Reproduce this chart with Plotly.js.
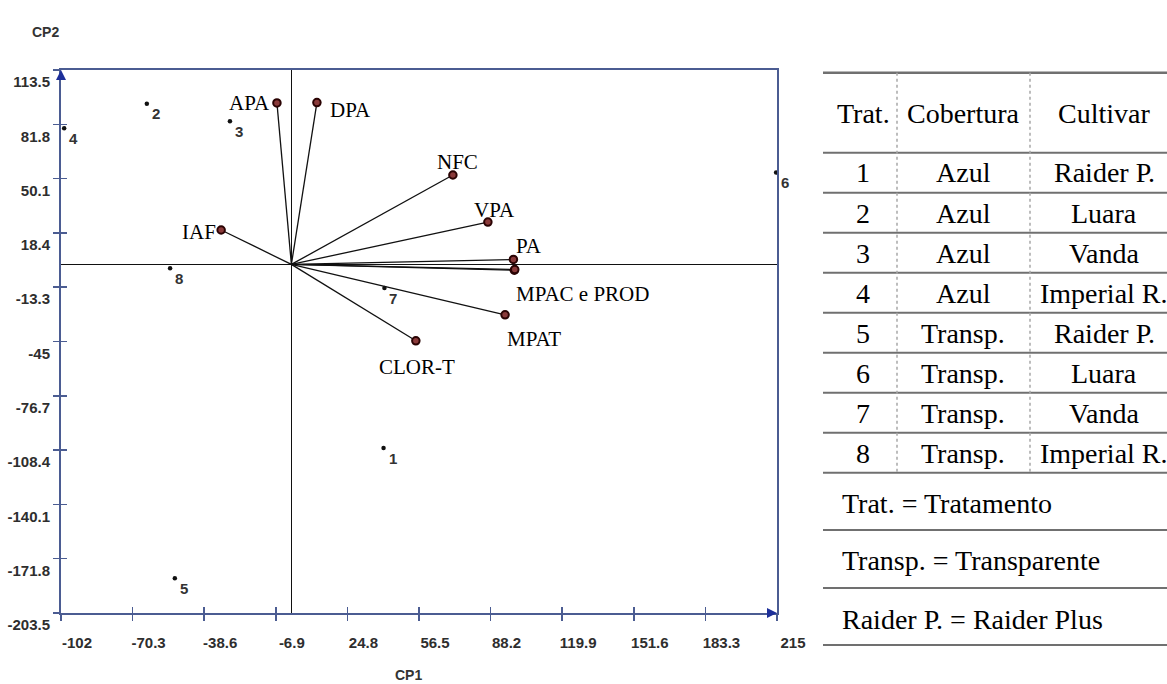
<!DOCTYPE html>
<html>
<head>
<meta charset="utf-8">
<script src="https://cdn.plot.ly/plotly-3.0.1.min.js"></script>
<style>html,body{margin:0;padding:0;background:#fff;}#chart{width:1167px;height:684px;}</style>
</head>
<body>
<div id="chart"></div>
<script>
// ---------- DATA ----------
const xTicks = [-102, -70.3, -38.6, -6.9, 24.8, 56.5, 88.2, 119.9, 151.6, 183.3, 215];
const yTicks = [113.5, 81.8, 50.1, 18.4, -13.3, -45, -76.7, -108.4, -140.1, -171.8, -203.5];
const xTickText = ['-102', '-70.3', '-38.6', '-6.9', '24.8', '56.5', '88.2', '119.9', '151.6', '183.3', '215'];
const yTickText = ['113.5', '81.8', '50.1', '18.4', '-13.3', '-45', '-76.7', '-108.4', '-140.1', '-171.8', '-203.5'];

// treatments (scores)
const tratLabels = ['1', '2', '3', '4', '5', '6', '7', '8'];
const tratCP1 = [40.8, -64.0, -27.2, -100.6, -51.6, 214.6, 41.2, -53.7];
const tratCP2 = [-107.2, 93.8, 83.6, 79.5, -183.2, 53.6, -13.8, -2.3];

// variables (vectors)
const varNames = ['APA', 'DPA', 'NFC', 'VPA', 'PA', 'MPAC', 'PROD', 'MPAT', 'CLOR-T', 'IAF'];
const varCP1 = [-6.4, 11.3, 71.5, 87.0, 98.3, 98.7, 98.9, 94.6, 55.1, -31.1];
const varCP2 = [94.3, 94.5, 52.2, 24.7, 2.9, -3.4, -3.0, -29.4, -44.6, 20.1];
const varLabelText = ['APA', 'DPA', 'NFC', 'VPA', 'PA', 'MPAC e PROD', '', 'MPAT', 'CLOR-T', 'IAF'];

// table
const tableHeader = ['Trat.', 'Cobertura', 'Cultivar'];
const tratCol = ['1', '2', '3', '4', '5', '6', '7', '8'];
const coberturaCol = ['Azul', 'Azul', 'Azul', 'Azul', 'Transp.', 'Transp.', 'Transp.', 'Transp.'];
const cultivarCol = ['Raider P.', 'Luara', 'Vanda', 'Imperial R.', 'Raider P.', 'Luara', 'Vanda', 'Imperial R.'];
const footnotes = ['Trat. = Tratamento', 'Transp. = Transparente', 'Raider P. = Raider Plus'];

// ---------- STYLE / LAYOUT ----------
const W = 1167, H = 684;
const AREA = {l: 61, r: 777, t: 70, b: 613};
const px = x => (x - AREA.l) / (AREA.r - AREA.l);
const py = y => (AREA.b - y) / (AREA.b - AREA.t);
const AXC = '#4b5c92';
const tickFont = {family: 'Liberation Sans, Arial, sans-serif', size: 15, color: '#2e2e2e', weight: 'bold'};
const serif = 'Liberation Serif, Times New Roman, serif';

// label placement for vectors (pixel offsets)
const varLabelPos = {
  'APA':    {xanchor: 'right', xshift: -5, yshift: 0},
  'DPA':    {xanchor: 'left', xshift: 11, yshift: -7},
  'NFC':    {xanchor: 'center', xshift: 5, yshift: 13},
  'VPA':    {xanchor: 'center', xshift: 7, yshift: 12},
  'PA':     {xanchor: 'left', xshift: 1, yshift: 13},
  'MPAC':   {xanchor: 'left', xshift: 0, yshift: -24},
  'MPAT':   {xanchor: 'left', xshift: 0, yshift: -24},
  'CLOR-T': {xanchor: 'center', xshift: 1, yshift: -26},
  'IAF':    {xanchor: 'right', xshift: -3, yshift: -2}
};

// ---------- TRACES ----------
const vecX = [], vecY = [];
varCP1.forEach((v, i) => { vecX.push(0, v, null); vecY.push(0, varCP2[i], null); });

const traces = [
  {x: vecX, y: vecY, mode: 'lines', line: {color: '#111', width: 1.3}, hoverinfo: 'skip', showlegend: false},
  {x: varCP1, y: varCP2, mode: 'markers', showlegend: false,
   marker: {symbol: 'circle', size: 7.5, color: '#8a3a3a', line: {color: '#2a0303', width: 2}}},
  {x: tratCP1, y: tratCP2, mode: 'markers', showlegend: false,
   marker: {symbol: 'circle', size: 4.5, color: '#111'}},
  {x: [null], y: [null], xaxis: 'x2', yaxis: 'y2', mode: 'markers', showlegend: false, hoverinfo: 'skip'}
];

// ---------- ANNOTATIONS ----------
const ann = [];
// treatment labels
tratLabels.forEach((t, i) => ann.push({
  x: tratCP1[i], y: tratCP2[i], text: t, showarrow: false, xanchor: 'center', yanchor: 'middle',
  xshift: 9, yshift: -10, font: {family: 'Liberation Sans, Arial, sans-serif', size: 15, color: '#333', weight: 'bold'}
}));
// vector labels
varNames.forEach((n, i) => {
  if (!varLabelText[i]) return;
  const p = varLabelPos[n];
  ann.push({x: varCP1[i], y: varCP2[i], text: varLabelText[i], showarrow: false,
    xanchor: p.xanchor, yanchor: 'middle', xshift: p.xshift, yshift: p.yshift,
    font: {family: serif, size: 21, color: '#000'}});
});
// axis titles
ann.push({xref: 'paper', yref: 'paper', x: 0, y: 1, xanchor: 'center', yanchor: 'middle',
  xshift: -16, yshift: 38, text: 'CP2', showarrow: false,
  font: {family: 'Liberation Sans, Arial, sans-serif', size: 14, color: '#333', weight: 'bold'}});
ann.push({xref: 'paper', yref: 'paper', x: 0.5, y: 0, xanchor: 'center', yanchor: 'middle',
  xshift: -11, yshift: -62, text: 'CP1', showarrow: false,
  font: {family: 'Liberation Sans, Arial, sans-serif', size: 14, color: '#333', weight: 'bold'}});
// axis end arrows
ann.push({x: xTicks[0], y: yTicks[0], ax: 0, ay: 10, showarrow: true, arrowhead: 2, arrowsize: 1,
  arrowwidth: 2, arrowcolor: '#1d2f9a', text: ''});
ann.push({x: xTicks[xTicks.length - 1], y: yTicks[yTicks.length - 1], ax: -10, ay: 0, showarrow: true,
  arrowhead: 2, arrowsize: 1, arrowwidth: 2, arrowcolor: '#1d2f9a', text: ''});

// table text
const colX = [863, 963, 1104];
const tFont = {family: serif, size: 28, color: '#000'};
tableHeader.forEach((h, j) => ann.push({xref: 'paper', yref: 'paper', x: px(colX[j]), y: py(113),
  text: h, showarrow: false, xanchor: 'center', yanchor: 'middle', font: tFont}));
const rowY0 = 173, rowH = 40;
tratCol.forEach((t, i) => {
  const y = py(rowY0 + i * rowH);
  [t, coberturaCol[i], cultivarCol[i]].forEach((s, j) => ann.push({xref: 'paper', yref: 'paper',
    x: px(colX[j]), y: y, text: s, showarrow: false, xanchor: 'center', yanchor: 'middle', font: tFont}));
});
const footY = [503, 560, 619];
footnotes.forEach((f, i) => ann.push({xref: 'paper', yref: 'paper', x: px(840), y: py(footY[i]),
  text: f, showarrow: false, xanchor: 'left', yanchor: 'middle', font: tFont}));

// table rules
const shapes = [];
const ruleYs = [72.7, 152.7];
for (let i = 1; i <= 8; i++) ruleYs.push(152.7 + i * rowH);
ruleYs.push(530, 588, 645);
ruleYs.forEach((y, k) => shapes.push({type: 'line', xref: 'paper', yref: 'paper',
  x0: px(823), x1: px(1167), y0: py(y), y1: py(y), line: {color: '#707070', width: k === 0 ? 2.5 : 2}}));
[897, 1030].forEach(x => shapes.push({type: 'line', xref: 'paper', yref: 'paper',
  x0: px(x), x1: px(x), y0: py(72.7), y1: py(472.7), line: {color: '#a8a8a8', width: 1.5, dash: 'dot'}}));

// ---------- LAYOUT ----------
const xr = [xTicks[0], xTicks[xTicks.length - 1]];
const yr = [yTicks[yTicks.length - 1], yTicks[0]];
const layout = {
  width: W, height: H,
  margin: {l: AREA.l, r: W - AREA.r, t: AREA.t, b: H - AREA.b},
  paper_bgcolor: '#fff', plot_bgcolor: '#fff',
  showlegend: false,
  xaxis: {range: xr, tickmode: 'array', tickvals: xTicks, ticktext: xTickText,
    ticks: 'outside', ticklen: 6, tickwidth: 1.5, tickcolor: AXC,
    showline: true, linecolor: AXC, linewidth: 2, mirror: true,
    showgrid: false, zeroline: true, zerolinecolor: '#111', zerolinewidth: 1.3,
    tickfont: tickFont, ticklabelshift: 16, ticklabelstandoff: 9, fixedrange: true},
  yaxis: {range: yr, tickmode: 'array', tickvals: yTicks, ticktext: yTickText,
    ticks: 'outside', ticklen: 6, tickwidth: 1.5, tickcolor: AXC,
    showline: true, linecolor: AXC, linewidth: 2, mirror: true,
    showgrid: false, zeroline: true, zerolinecolor: '#111', zerolinewidth: 1.3,
    tickfont: tickFont, ticklabelshift: 12, ticklabelstandoff: 0, fixedrange: true},
  xaxis2: {range: xr, overlaying: 'x', anchor: 'y', side: 'bottom', tickmode: 'array', tickvals: xTicks,
    ticks: 'inside', ticklen: 6, tickwidth: 1.5, tickcolor: AXC, showticklabels: false,
    showline: false, showgrid: false, zeroline: false, fixedrange: true},
  yaxis2: {range: yr, overlaying: 'y', anchor: 'x', side: 'left', tickmode: 'array', tickvals: yTicks,
    ticks: 'inside', ticklen: 6, tickwidth: 1.5, tickcolor: AXC, showticklabels: false,
    showline: false, showgrid: false, zeroline: false, fixedrange: true},
  annotations: ann,
  shapes: shapes
};

Plotly.newPlot('chart', traces, layout, {displayModeBar: false, staticPlot: true});
</script>
</body>
</html>
